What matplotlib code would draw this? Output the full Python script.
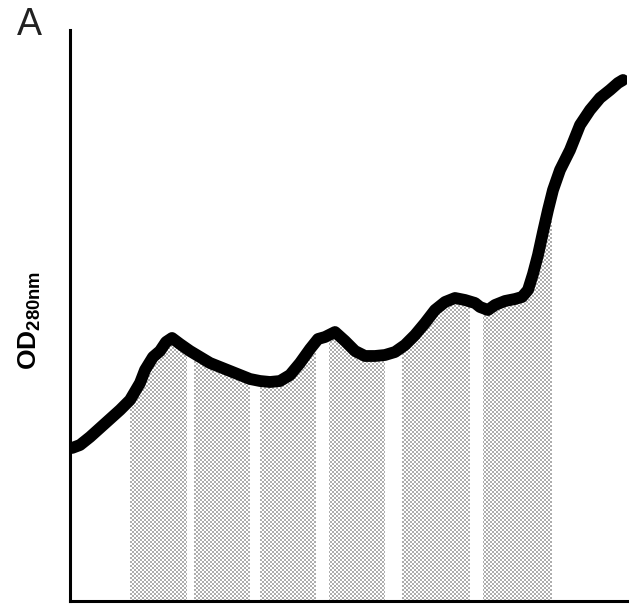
import numpy as np
import matplotlib
matplotlib.use("Agg")
import matplotlib.pyplot as plt

plt.rcParams['font.family'] = ['Liberation Sans', 'DejaVu Sans']
plt.rcParams['mathtext.fontset'] = 'custom'
plt.rcParams['mathtext.rm'] = 'Liberation Sans'
plt.rcParams['mathtext.bf'] = 'Liberation Sans:bold'

# Elution profile (arbitrary units)
elution = [2, 10, 20, 30, 40, 50, 60, 70, 75, 83, 90, 96, 102, 110, 120, 130, 140, 150,
           160, 170, 180, 190, 200, 210, 220, 230, 240, 248, 255, 265, 275, 285, 295,
           305, 315, 325, 335, 345, 355, 365, 375, 385, 395, 405, 410, 418, 425, 435,
           445, 452, 458, 463, 468, 473, 478, 483, 490, 500, 510, 520, 530, 540, 548, 553]
od280 = [153, 156, 164, 173, 182, 191, 201, 218, 231, 244, 250, 259, 263, 257, 250, 244,
         238, 234, 230, 226, 222, 220, 219, 220, 226, 238, 252, 262, 264, 269, 260, 250,
         245, 245, 246, 249, 256, 266, 278, 291, 299, 303, 301, 298, 294, 291, 296,
         300, 302, 304, 311, 327, 346, 369, 391, 411, 431, 451, 476, 491, 503, 511,
         518, 521]

# Collected fractions (start, end)
fraction_start = [60, 124, 190, 259, 332, 413]
fraction_end = [117, 180, 246, 315, 400, 482]

fig = plt.figure(figsize=(6.35, 6.04), dpi=100)
ax = fig.add_axes([70/635, 3/604, 557/635, 571/604])
ax.set_xlim(0, 557)
ax.set_ylim(0, 571)

x = np.array(elution, float)
y = np.array(od280, float)

# checkerboard texture
H, W = 571, 557
yy, xx = np.mgrid[0:H, 0:W]
checker = (((xx // 2) + (yy // 2)) % 2).astype(float)
img = np.where(checker == 1, 0.68, 1.0)

for s, e in zip(fraction_start, fraction_end):
    xs = np.concatenate([[s], x[(x > s) & (x < e)], [e]])
    ys = np.interp(xs, x, y)
    poly = ax.fill_between(xs, 0, ys, facecolor='none', edgecolor='none')
    im = ax.imshow(img, cmap='gray', vmin=0, vmax=1, extent=(0, W, 0, H),
                   origin='lower', interpolation='nearest', aspect='auto', zorder=1)
    im.set_clip_path(poly.get_paths()[0], ax.transData)

ax.plot(x, y, color='black', lw=8.5, solid_capstyle='round',
        solid_joinstyle='round', zorder=3)

for side in ['top', 'right']:
    ax.spines[side].set_visible(False)
for side in ['left', 'bottom']:
    ax.spines[side].set_linewidth(2.2)
    ax.spines[side].set_color('black')
ax.set_xticks([])
ax.set_yticks([])

fig.text(17/635, 1 - 35/604, 'A', fontsize=27, color='#222222', ha='left', va='baseline')
fig.text(43/635, 1 - 320/604, r'$\mathbf{OD}_{\mathbf{280nm}}$', fontsize=19,
         rotation=90, ha='right', va='center')

fig.savefig('out.png', dpi=100)
